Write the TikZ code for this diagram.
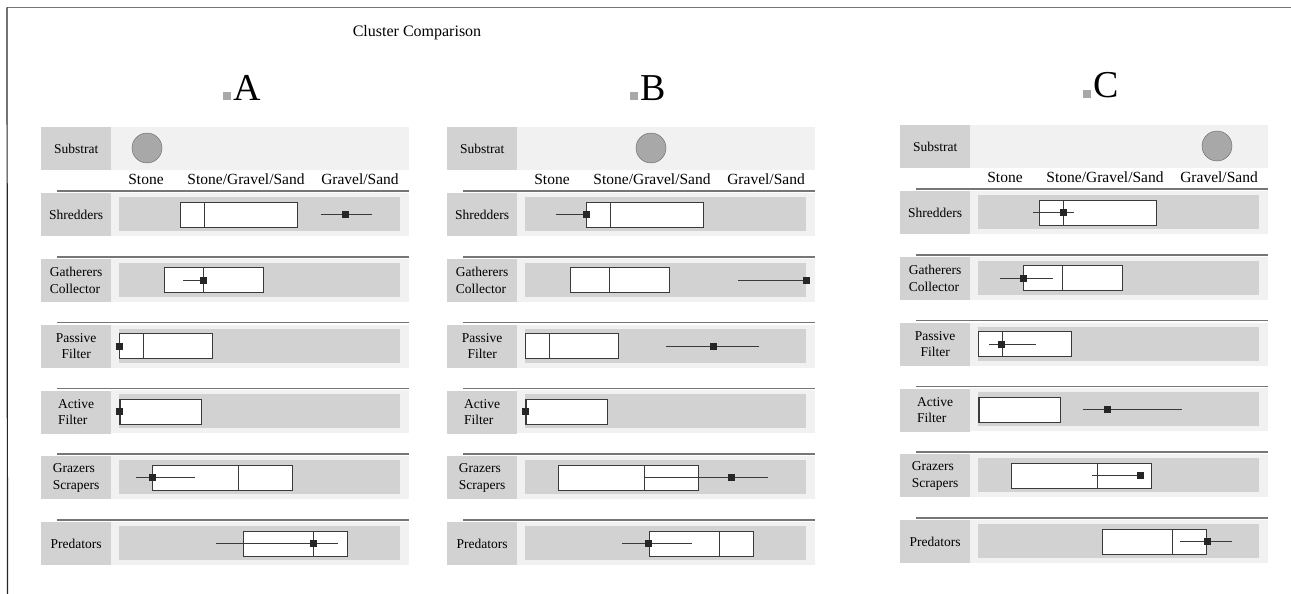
\documentclass[tikz,border=0pt]{standalone}
\usepackage{fontspec}
\setmainfont{Liberation Serif}
\usetikzlibrary{positioning}
\definecolor{labelgray}{HTML}{D2D2D2}
\definecolor{rowgray}{HTML}{F1F1F1}
\definecolor{dotgray}{HTML}{A8A8A8}
\definecolor{rulegray}{HTML}{767676}
\definecolor{inkgray}{HTML}{3A3A3A}

\tikzset{
  catlabel/.style={fill=labelgray, minimum width=70pt, minimum height=43pt, inner sep=0pt,
    anchor=north west, font=\fontsize{13.5}{16.5}\selectfont},
  colname/.style={anchor=base, inner sep=0pt, font=\fontsize{15.5}{18}\selectfont},
  heading/.style={anchor=base, inner sep=0pt, font=\fontsize{38}{38}\selectfont},
  headmark/.style={fill=dotgray, minimum size=8pt, inner sep=0pt, anchor=south east, xshift=-2pt},
  soil/.style={circle, draw=black!60, fill=dotgray, minimum size=30pt, inner sep=0pt},
  rule/.style={draw=rulegray, line width=1.5pt},
  boxline/.style={draw=inkgray, line width=1pt},
  whisker/.style={draw=inkgray, line width=1pt},
  median/.style={fill=black!85, minimum size=7pt, inner sep=0pt}
}

\begin{document}
\begin{tikzpicture}[x=1pt, y=-1pt]
\useasboundingbox (0,0) rectangle (1291,594);

\coordinate (topL) at (7,7.5);
\coordinate (topR) at (1291,7.5);
\coordinate (botL) at (7.5,594);
\draw [rule] (topL) -- (topR);
\draw [black!85, line width=1.2pt] (topL) -- (botL);

\node (title) at (417,33) [font=\fontsize{16}{18}\selectfont] {Cluster Comparison};

\foreach \px/\py/\p/\cx in {41/127/A/106, 447/127/B/204, 900/125/C/317} {
  \coordinate (P\p) at (\px,\py);
  \fill [rowgray] (\px+70,\py) rectangle (\px+368,\py+43);
  \node (sub\p) at (\px,\py) [catlabel] {Substrat};
  \node (dot\p) at (\px+\cx,\py+21) [soil] {};
  \node (hd\p) at (\px+206,\py-27) [heading] {\p};
  \node (mk\p) at (hd\p.base west) [headmark] {};
  \node (stone\p) at (\px+105,\py+57) [colname] {Stone};
  \node (mix\p) at (\px+205,\py+57) [colname] {Stone/Gravel/Sand};
  \node (sand\p) at (\px+319,\py+57) [colname] {Gravel/Sand};
  \foreach \txt/\al/\lo/\md/\hi [count=\r] in {
      Shredders/center/139/163/256,
      {Gatherers\\Collector}/left/123/162/222,
      {Passive\\Filter}/center/78/102/171,
      {Active\\Filter}/left/78/79/160,
      {Grazers\\Scrapers}/left/111/197/251,
      Predators/center/202/272/306} {
    \pgfmathsetmacro\t{\py+66+65.8*(\r-1)}
    \draw [rule] (\px+16,\t-2) -- (\px+368,\t-2);
    \fill [rowgray] (\px+70,\t) rectangle (\px+368,\t+43);
    \node (lbl\p\r) at (\px,\t) [catlabel, align=\al] {\txt};
    \fill [labelgray] (\px+78,\t+4) rectangle (\px+359,\t+38);
    \draw [boxline, fill=white] (\px+\lo,\t+9) rectangle (\px+\hi,\t+34);
    \draw [boxline] (\px+\md,\t+9) -- (\px+\md,\t+34);
  }
}

\foreach \p/\r/\wl/\wr/\sq in {
    A/1/280/331/304, A/2/142/162/162, A/3/78/78/78, A/4/78/78/78, A/5/95/154/111, A/6/175/297/272,
    B/1/109/139/139, B/2/291/359/359, B/3/219/312/266, B/4/78/78/78, B/5/197/321/284, B/6/175/245/201,
    C/1/133/174/163, C/2/100/153/123, C/3/89/136/101, C/4/183/282/207, C/5/192/244/240, C/6/280/332/307} {
  \pgfmathsetmacro\t{66+65.8*(\r-1)+21.5}
  \coordinate (wl\p\r) at ([shift={(\wl,\t)}]P\p);
  \coordinate (wr\p\r) at ([shift={(\wr,\t)}]P\p);
  \draw [whisker] (wl\p\r) -- (wr\p\r);
  \node (sq\p\r) at ([shift={(\sq,\t)}]P\p) [median] {};
}
\end{tikzpicture}
\end{document}
